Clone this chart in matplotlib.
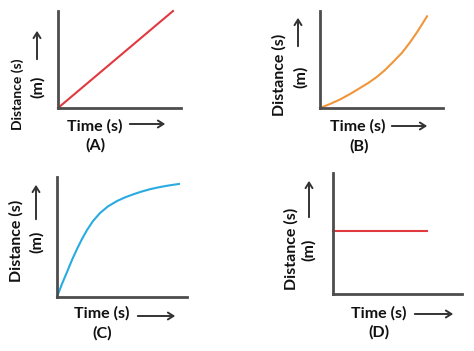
import matplotlib
matplotlib.use("Agg")
import matplotlib.pyplot as plt

# Data (both axes in arbitrary units 0..10)
time_a = [0, 9.35]
dist_a = [0, 10.0]

time_b = [0, 0.81, 1.63, 2.44, 3.25, 3.90, 4.63, 5.28, 5.93, 6.67, 7.32, 7.97, 8.70]
dist_b = [0, 0.41, 0.88, 1.44, 2.06, 2.56, 3.21, 3.91, 4.73, 5.70, 6.77, 7.97, 9.45]

time_c = [0, 0.38, 0.77, 1.15, 1.54, 1.92, 2.31, 2.77, 3.31, 3.92, 4.62, 5.23, 5.85, 6.46,
          7.15, 7.77, 8.46, 9.38]
dist_c = [0, 1.08, 2.08, 3.08, 4.00, 4.83, 5.58, 6.33, 7.00, 7.55, 8.00, 8.30, 8.55, 8.77,
          8.98, 9.13, 9.27, 9.42]

time_d = [0, 7.29]
dist_d = [5.21, 5.21]

panel_names = ["(A)", "(B)", "(C)", "(D)"]
xlabel = "Time (s)"
ylabel = "Distance (s)"
unit = "(m)"

W, H = 474, 351
fig = plt.figure(figsize=(W / 100, H / 100), dpi=100)

def fx(px):
    return px / W

def fy(py):
    return 1 - py / H

AXIS_COL = "#4d4d4d"
TEXT_COL = "#111111"
FONT = "Lato"
FS = 11.5

def make_axes(left, top, right, bottom):
    ax = fig.add_axes([fx(left), fy(bottom), (right - left) / W, (bottom - top) / H])
    ax.set_xlim(0, 10)
    ax.set_ylim(0, 10)
    for s in ["top", "right"]:
        ax.spines[s].set_visible(False)
    for s in ["left", "bottom"]:
        ax.spines[s].set_color(AXIS_COL)
        ax.spines[s].set_linewidth(2.0)
    ax.set_xticks([])
    ax.set_yticks([])
    ax.patch.set_alpha(0)
    return ax

def arrow(x0, y0, x1, y1):
    fig.add_artist(matplotlib.patches.FancyArrowPatch(
        (fx(x0), fy(y0)), (fx(x1), fy(y1)), transform=fig.transFigure,
        arrowstyle="->,head_length=4,head_width=2.5", color="#333333", lw=1.4))

def labels(ylab_xy, ysize, m_xy, up, tx_xy, right, name_xy, name):
    fig.text(fx(ylab_xy[0]), fy(ylab_xy[1]), ylabel, rotation=90, ha="center", va="center",
             fontsize=ysize, fontweight="bold", family=FONT, color=TEXT_COL)
    fig.text(fx(m_xy[0]), fy(m_xy[1]), unit, rotation=90, ha="center", va="center",
             fontsize=FS, fontweight="bold", family=FONT, color=TEXT_COL)
    arrow(*up)
    fig.text(fx(tx_xy[0]), fy(tx_xy[1]), xlabel, ha="center", va="center",
             fontsize=FS, fontweight="bold", family=FONT, color=TEXT_COL)
    arrow(*right)
    fig.text(fx(name_xy[0]), fy(name_xy[1]), name, ha="center", va="center",
             fontsize=FS, fontweight="bold", family=FONT, color=TEXT_COL)

# (A) uniform motion
ax = make_axes(58, 11, 181, 108)
ax.plot(time_a, dist_a, color="#e0393e", lw=1.5, clip_on=False)
labels((18, 94), 10, (38, 87), (37, 62, 37, 28), (95, 126), (127, 124, 168, 124), (95, 145), panel_names[0])

# (B) accelerated motion
ax = make_axes(320, 11, 443, 108)
ax.plot(time_b, dist_b, color="#f0963a", lw=1.5, clip_on=False)
labels((279, 75), FS, (301, 77), (298, 49, 298, 15), (358, 126), (389, 126, 430, 126), (359, 146), panel_names[1])

# (C) decelerated motion
ax = make_axes(57, 177, 187, 297)
ax.plot(time_c, dist_c, color="#29abe2", lw=1.5, clip_on=False)
labels((16, 241), FS, (37, 242), (36, 222, 36, 182), (102, 313), (135, 316, 178, 316), (102, 333), panel_names[2])

# (D) at rest
ax = make_axes(333, 173, 462, 294)
ax.plot(time_d, dist_d, color="#e0393e", lw=1.5, clip_on=False)
labels((291, 249), FS, (309, 250), (309, 220, 309, 178), (379, 313), (412, 314, 456, 314), (379, 332), panel_names[3])

fig.savefig("out.png", dpi=100, facecolor="white")
